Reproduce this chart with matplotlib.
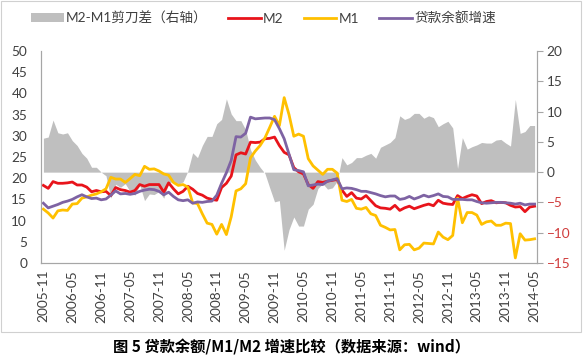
import numpy as np
import pandas as pd
import matplotlib
matplotlib.use("Agg")
import matplotlib.pyplot as plt
from matplotlib.patches import Patch, Rectangle
from matplotlib.lines import Line2D

plt.rcParams['font.family'] = ['Lato', 'Noto Sans CJK SC', 'DejaVu Sans']

# monthly categories 2005-11 .. 2014-05
months = pd.period_range('2005-11', '2014-05', freq='M').strftime('%Y-%m').tolist()

m2 = [18.3, 17.6,
      19.2, 18.8, 18.8, 18.9, 19.1, 18.4, 18.4, 17.9, 16.8, 17.1, 16.8, 16.9,
      15.9, 17.8, 17.3, 17.1, 16.7, 17.1, 18.5, 18.1, 18.5, 18.5, 18.5, 16.7,
      18.9, 17.5, 16.3, 16.9, 18.1, 17.4, 16.4, 16.0, 15.3, 15.0, 14.8, 17.8,
      18.8, 20.5, 25.5, 26.0, 25.7, 28.5, 28.4, 28.5, 29.3, 29.4, 29.7, 27.7,
      26.1, 25.5, 22.5, 21.5, 21.0, 18.5, 17.6, 19.2, 19.0, 19.3, 19.5, 19.7,
      17.2, 15.7, 16.6, 15.3, 15.1, 15.9, 14.7, 13.5, 13.0, 12.9, 12.7, 13.6,
      12.4, 13.0, 13.4, 12.8, 13.2, 13.6, 13.9, 13.5, 14.8, 14.1, 13.9, 13.8,
      15.9, 15.2, 15.7, 16.1, 15.8, 14.0, 14.5, 14.7, 14.2, 14.3, 14.2, 13.6,
      13.2, 13.3, 12.1, 13.2, 13.4]

m1 = [12.7, 11.8,
      10.6, 12.3, 12.5, 12.4, 13.9, 14.0, 15.3, 15.6, 16.0, 16.3, 16.8, 17.5,
      20.2, 19.8, 19.8, 19.0, 19.9, 20.9, 20.6, 22.8, 22.1, 22.2, 21.7, 21.0,
      20.7, 19.0, 18.3, 18.5, 17.9, 14.2, 14.0, 11.6, 9.4, 9.1, 6.8, 9.1,
      6.7, 10.9, 17.0, 17.5, 18.7, 24.8, 26.4, 27.7, 29.5, 32.0, 34.6, 32.4,
      39.0, 35.0, 29.9, 30.4, 29.9, 24.6, 22.9, 21.9, 20.9, 22.1, 22.1, 21.2,
      14.8, 14.5, 15.0, 12.9, 12.7, 13.1, 11.6, 11.2, 8.9, 8.4, 7.8, 7.9,
      3.1, 4.3, 4.4, 3.1, 3.5, 4.7, 4.6, 4.5, 7.3, 6.1, 5.5, 6.5,
      15.3, 9.5, 11.9, 11.9, 11.3, 9.1, 9.7, 9.9, 8.9, 8.9, 9.4, 9.3,
      1.2, 6.9, 5.4, 5.5, 5.7]

loans = [14.1, 13.0,
         13.4, 13.8, 14.3, 14.6, 15.0, 15.6, 16.1, 15.6, 15.2, 15.3, 14.9, 15.1,
         16.0, 17.0, 16.3, 16.4, 16.2, 16.4, 16.9, 17.2, 17.4, 17.3, 16.9, 16.1,
         16.7, 15.7, 14.9, 14.7, 14.9, 14.1, 14.4, 14.3, 14.5, 14.6, 16.0, 18.8,
         21.3, 24.2, 29.8, 29.7, 30.6, 34.4, 34.0, 34.1, 34.2, 34.2, 33.8, 31.7,
         29.3, 25.7, 22.0, 21.8, 21.5, 18.2, 18.4, 18.6, 18.5, 19.3, 19.6, 19.9,
         17.5, 17.7, 17.6, 17.3, 16.9, 16.9, 16.6, 16.3, 15.9, 15.6, 15.8, 15.8,
         15.0, 15.2, 15.7, 15.1, 15.5, 16.0, 15.6, 15.9, 16.3, 15.7, 15.6, 15.0,
         15.0, 15.0, 14.9, 14.9, 14.5, 14.2, 14.1, 14.2, 14.3, 14.3, 14.2, 14.1,
         13.9, 14.1, 13.7, 13.9, 13.9]

# M2-M1 scissors gap, right axis
spread = [5.6, 5.8,
          8.6, 6.5, 6.3, 6.5, 5.2, 4.4, 3.1, 2.3, 0.8, 0.8, 0.0, -0.6,
          -4.3, -2.0, -2.5, -1.9, -3.2, -3.8, -2.1, -4.7, -3.6, -3.7, -3.2, -4.3,
          -1.8, -1.5, -2.0, -1.6, 0.2, 3.2, 2.4, 4.4, 5.9, 5.9, 8.0, 8.7,
          12.1, 9.6, 8.5, 8.5, 7.0, 3.7, 2.0, 0.8, -0.2, -2.6, -4.9, -4.7,
          -12.9, -9.5, -7.4, -8.9, -8.9, -6.1, -5.3, -2.7, -1.9, -2.8, -2.6, -1.5,
          2.4, 1.2, 1.6, 2.4, 2.4, 2.8, 3.1, 2.3, 4.1, 4.5, 4.9, 5.7,
          9.3, 8.7, 9.0, 9.7, 9.7, 8.9, 9.3, 9.0, 7.5, 8.0, 8.4, 7.3,
          0.6, 5.7, 3.8, 4.2, 4.5, 4.9, 4.8, 4.8, 5.3, 5.4, 4.8, 4.3,
          12.0, 6.4, 6.7, 7.7, 7.7]

left_ticks = [0, 5, 10, 15, 20, 25, 30, 35, 40, 45, 50]
right_ticks = [-15, -10, -5, 0, 5, 10, 15, 20]

c_gray = '#BFBFBF'
c_m2 = '#E8141B'
c_m1 = '#FFC000'
c_loan = '#7E63A3'
c_axis = '#A6A6A6'
c_text = '#404040'
c_neg = '#D03C3C'

fig = plt.figure(figsize=(5.83, 3.59), dpi=100)
fig.patches.append(Rectangle((0.002, 1 - 332 / 359), 0.994, 332 / 359 - 0.004,
                             transform=fig.transFigure, fill=False,
                             edgecolor='#D0D0D0', linewidth=0.8))

ax = fig.add_axes([41 / 583, 1 - 263 / 359, 496 / 583, 212 / 359])
ax2 = ax.twinx()
ax.set_zorder(ax2.get_zorder() + 1)
ax.patch.set_visible(False)

x = np.arange(len(months))
ax2.fill_between(x, 0, spread, color=c_gray, linewidth=0)
ax.plot(x, m2, color=c_m2, lw=2.0, solid_joinstyle='round')
ax.plot(x, m1, color=c_m1, lw=2.0, solid_joinstyle='round')
ax.plot(x, loans, color=c_loan, lw=2.0, solid_joinstyle='round')

ax.set_xlim(-0.5, len(months) - 0.5)
ax.set_ylim(0, 50)
ax2.set_ylim(-15, 20)
ax.set_yticks(left_ticks)
ax2.set_yticks(right_ticks)

xt = x[::6]
ax.set_xticks(xt)
ax.set_xticklabels([months[i] for i in xt], rotation=90, fontsize=9.8, color=c_text)
ax.tick_params(axis='x', length=0, pad=5)
ax.tick_params(axis='y', length=0, labelsize=9.8, labelcolor=c_text, pad=10)
ax2.tick_params(axis='y', length=4, color=c_axis, labelsize=9.8, labelcolor=c_text, pad=3)
for lab, v in zip(ax2.get_yticklabels(), right_ticks):
    if v < 0:
        lab.set_color(c_neg)

for a in (ax, ax2):
    a.spines['top'].set_visible(False)
    a.spines['left'].set_color(c_axis)
    a.spines['right'].set_color(c_axis)
    a.spines['bottom'].set_color(c_axis)

handles = [Patch(facecolor=c_gray, edgecolor='none'),
           Line2D([], [], color=c_m2, lw=2),
           Line2D([], [], color=c_m1, lw=2),
           Line2D([], [], color=c_loan, lw=2)]
labels = ['M2-M1剪刀差（右轴）', 'M2', 'M1', '贷款余额增速']
fig.legend(handles, labels, loc='center', bbox_to_anchor=(0.452, 0.95), ncol=4,
           frameon=False, fontsize=9.8, handlelength=2.4, handleheight=0.6,
           handletextpad=0.15, columnspacing=1.5, labelcolor=c_text)

fig.text(0.5, 1 - 347 / 359, '图 5 贷款余额/M1/M2 增速比较（数据来源：wind）',
         ha='center', va='center', fontsize=11, fontweight='bold',
         family=['Noto Sans CJK SC', 'DejaVu Sans'], color='#000000')

fig.savefig('out.png', dpi=100)
